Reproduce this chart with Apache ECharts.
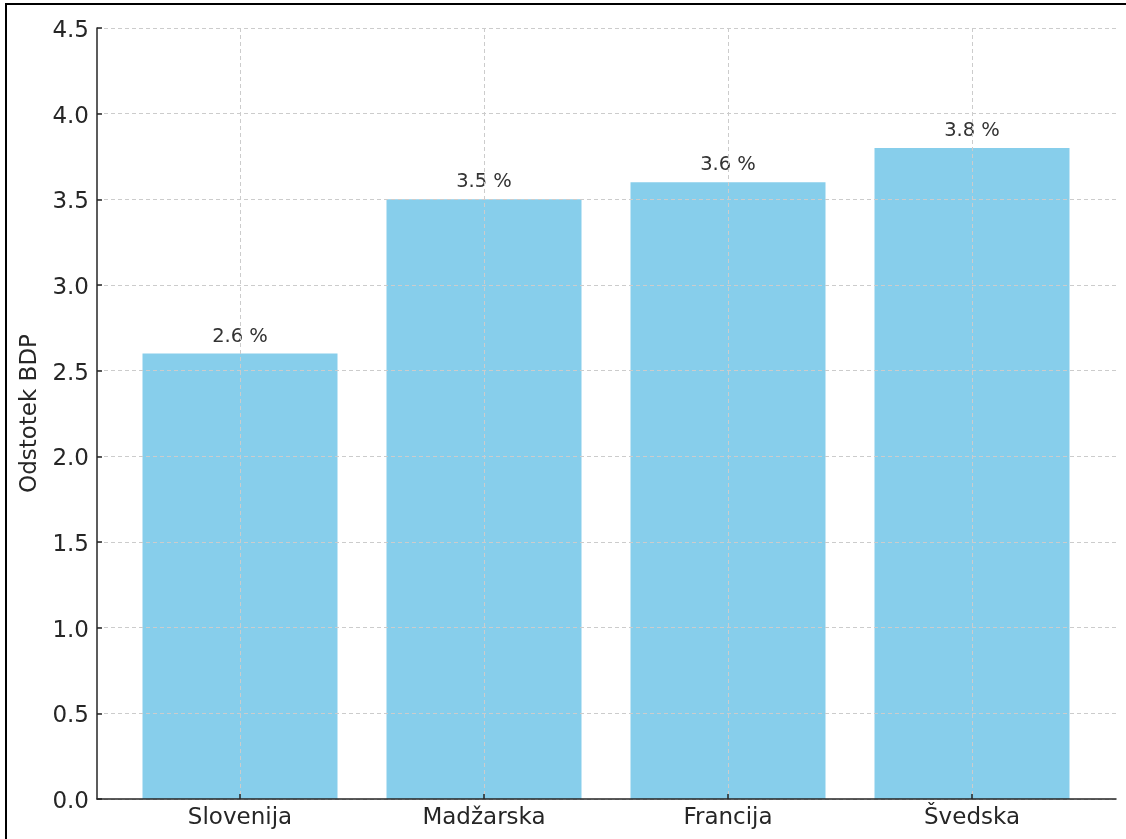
<!DOCTYPE html>
<html>
<head>
<meta charset="utf-8">
<script src="https://cdn.jsdelivr.net/npm/echarts@6/dist/echarts.min.js"></script>
<style>
  html, body { margin: 0; padding: 0; background: #fff; }
  #main { width: 1126px; height: 839px; }
</style>
</head>
<body>
<div id="main"></div>
<script>
const countries = ['Slovenija', 'Madžarska', 'Francija', 'Švedska']
const shares = [2.6, 3.5, 3.6, 3.8]
const yTicks = { min: 0, max: 4.5, step: 0.5 }
const yTitle = 'Odstotek BDP'

const font = 'DejaVu Sans'
const dark = '#262626'
const gridColor = '#cccccc'

var myChart = echarts.init(document.getElementById('main'))

var option = {
  animation: false,
  backgroundColor: '#fff',
  textStyle: { fontFamily: font },
  graphic: [{
    type: 'rect',
    shape: { x: 6, y: 4, width: 1300, height: 1000 },
    style: { fill: 'none', stroke: '#000', lineWidth: 2 }
  }],
  grid: [
    // frame grid: y axis, horizontal grid and bottom spine
    { left: 97, right: 10, top: 28, bottom: 40 },
    // bar grid: category centers sit on the edges
    { left: 240, width: 732, top: 28, bottom: 40 }
  ],
  xAxis: [
    {
      gridIndex: 0, type: 'value', min: 0, max: 1, z: 5,
      axisLine: { show: true, lineStyle: { color: dark, width: 1.5 } },
      axisTick: { show: false }, axisLabel: { show: false }, splitLine: { show: false }
    },
    {
      gridIndex: 1, type: 'category', data: countries, boundaryGap: false, z: 5,
      axisLine: { show: false },
      axisTick: { show: true, inside: true, length: 5, lineStyle: { color: dark, width: 1.5 } },
      axisLabel: { color: dark, fontSize: 23, fontFamily: font, margin: 8 },
      splitLine: { show: true, lineStyle: { color: gridColor, type: [4, 3], width: 1 } }
    }
  ],
  yAxis: [
    {
      gridIndex: 0, type: 'value', min: yTicks.min, max: yTicks.max, interval: yTicks.step, z: 5,
      name: yTitle, nameLocation: 'middle', nameGap: 51,
      nameTextStyle: { color: dark, fontSize: 23, fontFamily: font },
      axisLine: { show: true, lineStyle: { color: dark, width: 1.5 } },
      axisTick: { show: true, inside: true, length: 5, lineStyle: { color: dark, width: 1.5 } },
      axisLabel: { color: dark, fontSize: 23, fontFamily: font, margin: 8,
        formatter: function (v) { return '{t|' + v.toFixed(1) + '}' },
        rich: { t: { color: dark, fontSize: 23, fontFamily: font, padding: [6, 0, 0, 0] } } },
      splitLine: { show: true, lineStyle: { color: gridColor, type: [4, 3], width: 1 } }
    },
    {
      gridIndex: 1, type: 'value', min: yTicks.min, max: yTicks.max,
      axisLine: { show: false }, axisTick: { show: false },
      axisLabel: { show: false }, splitLine: { show: false }
    }
  ],
  series: [{
    type: 'bar',
    xAxisIndex: 1, yAxisIndex: 1,
    data: shares,
    barWidth: 195,
    clip: false,
    z: 1,
    itemStyle: { color: '#87CEEB' },
    label: {
      show: true, position: 'top', distance: 7,
      color: '#333', fontSize: 19.5, fontFamily: font,
      formatter: function (p) { return p.value + ' %' }
    }
  }]
}

myChart.setOption(option)
</script>
</body>
</html>
